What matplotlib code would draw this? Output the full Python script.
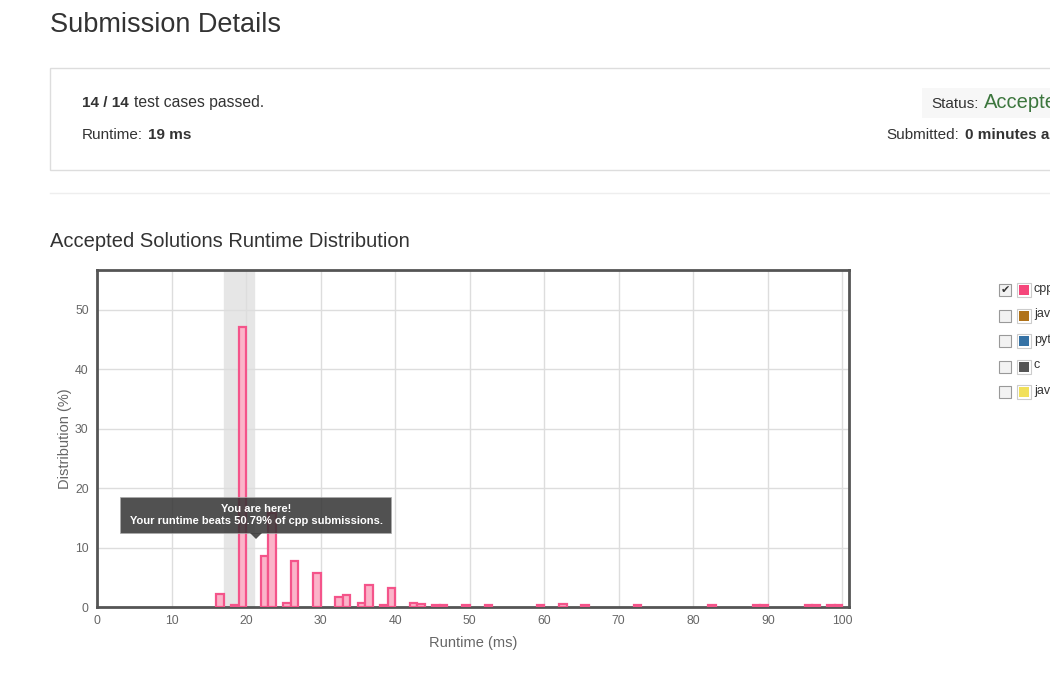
import matplotlib
matplotlib.use("Agg")
import matplotlib.pyplot as plt
from matplotlib.patches import Rectangle, Polygon

plt.rcParams['font.family'] = ['Liberation Sans', 'DejaVu Sans']

# ---- data ----
runtimes = [16, 18, 19, 22, 23, 25, 26, 29, 32, 33, 35, 36, 38, 39, 42, 43,
            45, 46, 49, 52, 59, 62, 65, 72, 82, 88, 89, 95, 96, 98, 99]
distribution = [2.2, 0.3, 47.1, 8.5, 15.8, 0.7, 7.7, 5.8, 1.7, 2.0, 0.6, 3.7, 0.4, 3.2, 0.7, 0.55,
                0.4, 0.4, 0.3, 0.3, 0.3, 0.5, 0.3, 0.3, 0.3, 0.3, 0.4, 0.3, 0.3, 0.3, 0.3]
x_ticks = [0, 10, 20, 30, 40, 50, 60, 70, 80, 90, 100]
y_ticks = [0, 10, 20, 30, 40, 50]
highlight = (17, 21)
languages = ['cpp', 'java', 'python', 'c', 'javascript']
lang_colors = ['#f5467b', '#b07219', '#3572a5', '#555555', '#f1e05a']
lang_checked = [True, False, False, False, False]

W, H = 1050, 673
fig = plt.figure(figsize=(W / 100, H / 100), dpi=100)
fig.patch.set_facecolor('white')


def P(x, y):
    return (x / W, 1 - y / H)


# ---- page header ----
fig.text(*P(50, 25), 'Submission Details', fontsize=19.5, color='#333333', va='center', ha='left')
fig.patches.append(Rectangle(P(50, 170), (1100 - 50) / W, (170 - 68) / H, transform=fig.transFigure,
                             facecolor='white', edgecolor='#dddddd', linewidth=1, zorder=0))
fig.patches.append(Rectangle(P(922, 118), (1050 - 922) / W, 30 / H, transform=fig.transFigure,
                             facecolor='#f7f7f7', edgecolor='none', zorder=1))
fig.text(*P(82, 103), '14 / 14', fontsize=11, color='#333333', va='center', ha='left', fontweight='bold')
fig.text(*P(134, 103), 'test cases passed.', fontsize=11.3, color='#333333', va='center', ha='left')
fig.text(*P(82, 135), 'Runtime:', fontsize=11, color='#333333', va='center', ha='left')
fig.text(*P(148, 135), '19 ms', fontsize=11, color='#333333', va='center', ha='left', fontweight='bold')
fig.text(*P(931, 104), 'Status:', fontsize=11, color='#333333', va='center', ha='left', zorder=3)
fig.text(*P(984, 102), 'Accepted', fontsize=14.5, color='#3c763d', va='center', ha='left', zorder=3)
fig.text(*P(886, 135), 'Submitted:', fontsize=11, color='#333333', va='center', ha='left')
fig.text(*P(965, 135), '0 minutes ago', fontsize=11, color='#333333', va='center', ha='left', fontweight='bold')
fig.add_artist(plt.Line2D([50 / W, 1], [1 - 193 / H] * 2, transform=fig.transFigure, color='#eeeeee', linewidth=1))
fig.text(*P(50, 241), 'Accepted Solutions Runtime Distribution', fontsize=14.5, color='#333333', va='center', ha='left')

# ---- chart ----
left, right, top, bottom = 97, 849, 270, 607
ax = fig.add_axes([left / W, 1 - bottom / H, (right - left) / W, (bottom - top) / H])
ax.set_xlim(0, 100.9)
ax.set_ylim(0, 56.7)
ax.axvspan(highlight[0], highlight[1], color='#e6e6e6', zorder=0)
ax.bar(runtimes, distribution, width=1, align='edge', facecolor='#fbb4c9', edgecolor='#f4548a',
       linewidth=1.6, zorder=3)
ax.set_xticks(x_ticks)
ax.set_yticks(y_ticks)
ax.grid(True, color='#dddddd', linewidth=1, zorder=1)
ax.set_axisbelow(True)
ax.tick_params(length=0, labelsize=8.8, colors='#666666')
ax.tick_params(axis='x', pad=6)
ax.tick_params(axis='y', pad=6)
for s in ax.spines.values():
    s.set_color('#555555')
    s.set_linewidth(2)
ax.set_xlabel('Runtime (ms)', fontsize=10.5, color='#666666', labelpad=6)
ax.set_ylabel('Distribution (%)', fontsize=10.5, color='#666666', labelpad=2)

# ---- tooltip ----
fig.patches.append(Rectangle(P(120, 533), (391 - 120) / W, (533 - 497) / H, transform=fig.transFigure,
                             facecolor='#333333', alpha=0.85, edgecolor='#aaaaaa', linewidth=0.6, zorder=10))
fig.patches.append(Polygon([P(250, 533), P(262, 533), P(256, 539)], closed=True, transform=fig.transFigure,
                           facecolor='#333333', alpha=0.85, edgecolor='none', zorder=10))
fig.text(*P(256, 509), 'You are here!', fontsize=8, color='white', fontweight='bold', ha='center', va='center', zorder=11)
fig.text(*P(256, 521), 'Your runtime beats 50.79% of cpp submissions.', fontsize=8, color='white',
         fontweight='bold', ha='center', va='center', zorder=11)

# ---- legend ----
for i, (lang, col, chk) in enumerate(zip(languages, lang_colors, lang_checked)):
    yc = 290 + i * 25.5
    fig.patches.append(Rectangle(P(999, yc + 6), 12 / W, 12 / H, transform=fig.transFigure,
                                 facecolor='#f2f2f2', edgecolor='#999999', linewidth=0.8, zorder=5))
    if chk:
        fig.text(*P(1005, yc), '✔', fontsize=8, color='#333333', ha='center', va='center',
                 family=['DejaVu Sans'], zorder=6)
    fig.patches.append(Rectangle(P(1017, yc + 7), 14 / W, 14 / H, transform=fig.transFigure,
                                 facecolor='white', edgecolor='#cccccc', linewidth=0.8, zorder=5))
    fig.patches.append(Rectangle(P(1019, yc + 5), 10 / W, 10 / H, transform=fig.transFigure,
                                 facecolor=col, edgecolor='none', zorder=6))
    fig.text(*P(1034, yc - 1), lang, fontsize=9, color='#333333', ha='left', va='center')

fig.savefig('out.png', dpi=100)
